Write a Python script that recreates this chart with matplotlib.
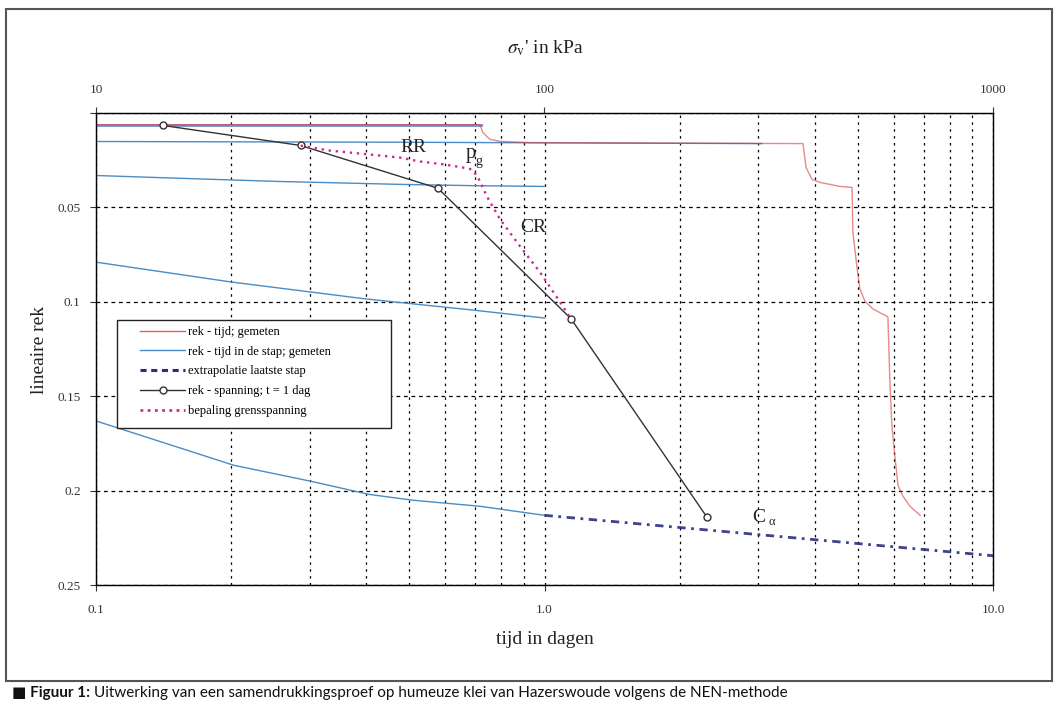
import matplotlib
matplotlib.use('Agg')
import matplotlib.pyplot as plt
from matplotlib.lines import Line2D
from matplotlib.patches import Rectangle
from matplotlib.ticker import FixedLocator, NullLocator, LogLocator

plt.rcParams['font.family'] = ['Liberation Serif', 'DejaVu Serif']
plt.rcParams['mathtext.fontset'] = 'stix'

# rek - tijd; gemeten (cumulatieve tijd in dagen)
red_t = [0.1, 0.718, 0.729, 0.756, 0.796, 0.928, 3.77, 3.83, 3.95, 4.12, 4.56, 4.85,
         4.87, 4.98, 5.05, 5.18, 5.40, 5.83, 5.89, 5.95, 6.05, 6.14, 6.30, 6.53, 6.88]
red_e = [0.0062, 0.0062, 0.0104, 0.0140, 0.0150, 0.0157, 0.0162, 0.0289, 0.0352, 0.0368, 0.0389, 0.0394,
         0.0632, 0.0827, 0.0932, 0.0996, 0.1038, 0.1080, 0.1423, 0.1655, 0.1830, 0.1972, 0.2030, 0.2083, 0.2131]

# rek - tijd in de stap; gemeten
steps = [
    ([0.1, 0.72], [0.0062, 0.0062]),
    ([0.1, 0.5, 1.0, 3.05], [0.0151, 0.0155, 0.0158, 0.0162]),
    ([0.1, 0.15, 0.25, 0.476, 0.7, 1.0], [0.0331, 0.0345, 0.0362, 0.0378, 0.0385, 0.0389]),
    ([0.1, 0.2, 0.4, 0.7, 1.0], [0.0790, 0.0895, 0.0985, 0.1045, 0.1086]),
    ([0.1, 0.203, 0.302, 0.406, 0.509, 0.718, 1.0], [0.1631, 0.1866, 0.1951, 0.2020, 0.2051, 0.2083, 0.2131]),
]

# extrapolatie laatste stap
extra_t = [1.0, 10.0]
extra_e = [0.2131, 0.2345]

# rek - spanning; t = 1 dag
sig = [14.1, 28.6, 57.9, 114.6, 230.3]
sig_e = [0.0066, 0.0172, 0.0399, 0.1090, 0.2141]

# bepaling grensspanning
gr_sig = [28.6, 33.2, 40.8, 47.6, 52.8, 60.0, 65.8, 68.9, 71.1, 74.4, 79.6, 88.2, 97.7, 108.3, 114.6]
gr_e = [0.0173, 0.0199, 0.0220, 0.0236, 0.0257, 0.0273, 0.0289, 0.0299, 0.0341, 0.0442,
        0.0563, 0.0706, 0.0843, 0.1001, 0.1091]

RED = '#d93a3a'
BLUE = '#4a8cc4'
NAVY = '#2a2e80'
MAG = '#cc2a8e'
BLK = '#333333'
TXT = '#222222'

W, H = 1057, 709
fig = plt.figure(figsize=(W / 100, H / 100), dpi=100)
ax = fig.add_axes([96 / W, 1 - 585 / H, (993 - 96) / W, (585 - 113) / H])

for t, e in steps:
    ax.plot(t, e, color=BLUE, lw=1.0)
ax.plot(steps[0][0], steps[0][1], color='#7f8fc8', lw=2.0)
ax.plot(red_t, red_e, color=RED, lw=1.0, alpha=0.6)
ax.plot(extra_t, extra_e, color=NAVY, lw=2.0, ls=(0, (3, 2, 1, 2)), alpha=0.9)

ax.set_xscale('log')
ax.set_xlim(0.1, 10)
ax.set_ylim(0.25, 0)
ax.xaxis.set_major_locator(FixedLocator([0.1, 1.0, 10.0]))
ax.set_xticklabels(['0.1', '1.0', '10.0'])
ax.xaxis.set_minor_locator(LogLocator(base=10, subs=range(2, 10)))
ax.xaxis.set_minor_formatter(plt.NullFormatter())
ax.yaxis.set_major_locator(FixedLocator([0, 0.05, 0.1, 0.15, 0.2, 0.25]))
ax.set_yticklabels(['', '0.05', '0.1', '0.15', '0.2', '0.25'])
ax.tick_params(which='major', direction='out', length=4, width=0.8, labelsize=9.5, colors='#333333')
ax.tick_params(axis='x', which='major', pad=10)
ax.tick_params(axis='y', which='major', pad=7)
ax.tick_params(which='minor', length=0)
ax.grid(True, axis='x', which='both', color='black', lw=0.9, ls=(0, (2, 3.5)))
ax.grid(True, axis='y', which='major', color='black', lw=0.9, ls=(0, (3, 3)))
for s in ax.spines.values():
    s.set_linewidth(1.0)
    s.set_color(TXT)

ax2 = ax.twiny()
ax2.set_xscale('log')
ax2.set_xlim(10, 1000)
ax2.xaxis.set_major_locator(FixedLocator([10, 100, 1000]))
ax2.set_xticklabels(['10', '100', '1000'])
ax2.xaxis.set_minor_locator(NullLocator())
ax2.tick_params(direction='out', length=4, width=0.8, labelsize=9.5, pad=8, colors='#333333')
ax2.plot(sig, sig_e, color=BLK, lw=1.0, marker='o', ms=5, mfc='white', mec=BLK, mew=1.0)
ax2.plot(gr_sig, gr_e, color=MAG, lw=1.7, ls=(0, (1, 2)))

ax2.text(50.9, 0.0184, 'RR', fontsize=14, ha='center', va='center', color=TXT)
ax2.text(68.5, 0.0215, 'p', fontsize=15, ha='center', va='center', color=TXT)
ax2.text(71.5, 0.0255, 'g', fontsize=10, ha='center', va='center', color=TXT)
ax2.text(94.3, 0.0605, 'CR', fontsize=14, ha='center', va='center', color=TXT)
ax.text(3.0, 0.2140, 'C', fontsize=14, ha='center', va='center', color=TXT)
ax.text(3.22, 0.2165, 'α', fontsize=9, ha='center', va='center', color=TXT)

handles = [
    Line2D([], [], color=RED, lw=1.0, alpha=0.8),
    Line2D([], [], color=BLUE, lw=1.0),
    Line2D([], [], color=NAVY, lw=2.2, ls=(0, (2, 1.5))),
    Line2D([], [], color=BLK, lw=1.0, marker='o', ms=5, mfc='white', mec=BLK),
    Line2D([], [], color=MAG, lw=2.0, ls=(0, (1, 1.6))),
]
labels = ['rek - tijd; gemeten', 'rek - tijd in de stap; gemeten', 'extrapolatie laatste stap',
          'rek - spanning; t = 1 dag', 'bepaling grensspanning']

# legendakader los getekend, zoals in het origineel breder dan de tekst
leg_box = Rectangle((117 / W, 1 - 428 / H), (391 - 117) / W, (428 - 320) / H,
                    transform=fig.transFigure, facecolor='white', edgecolor=TXT, lw=1.0, zorder=9)
ax2.add_artist(leg_box)
leg_box.set_clip_on(False)
leg = ax2.legend(handles, labels, loc='upper left', bbox_to_anchor=(140 / W, 1 - 326 / H),
                 bbox_transform=fig.transFigure, fontsize=9, frameon=False,
                 handlelength=3.6, handletextpad=0.25, borderpad=0,
                 labelspacing=0.62, borderaxespad=0, numpoints=1)
leg.set_zorder(10)

fig.text(545 / W, 1 - 48 / H, r"$\sigma_\mathrm{v}$' in kPa", fontsize=14, ha='center', va='center',
         color=TXT)
fig.text(545 / W, 1 - 640 / H, 'tijd in dagen', fontsize=14, ha='center', va='center', color=TXT)
fig.text(40 / W, 1 - 350 / H, 'lineaire rek', fontsize=14, ha='center', va='center', rotation=90,
         color=TXT)

# kader en onderschrift
fig.patches.append(Rectangle((6 / W, 1 - 681 / H), (1052 - 6) / W, (681 - 9) / H,
                             transform=fig.transFigure, fill=False, ec='#555555', lw=1.5))
cap_y = 1 - 693 / H
t1 = fig.text(12 / W, cap_y, '■ Figuur 1:', fontsize=11, fontweight='bold', va='center',
              family=['Lato', 'DejaVu Sans'], color='#111111')
fig.canvas.draw()
bb = t1.get_window_extent()
fig.text((bb.x1 + 4) / W, cap_y,
         'Uitwerking van een samendrukkingsproef op humeuze klei van Hazerswoude volgens de NEN-methode',
         fontsize=11, va='center', family=['Lato', 'DejaVu Sans'], color='#111111')

fig.savefig('out.png', dpi=100)
